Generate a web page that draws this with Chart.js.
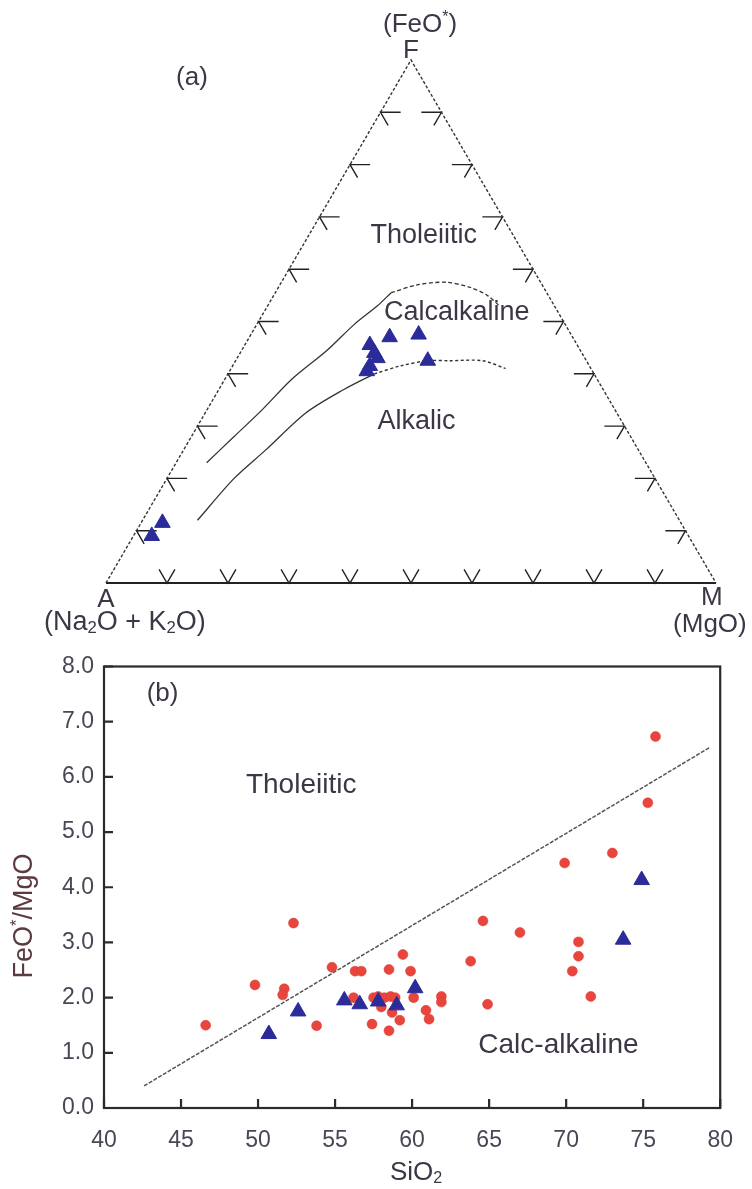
<!DOCTYPE html>
<html>
<head>
<meta charset="utf-8">
<script src="https://cdn.jsdelivr.net/npm/chart.js@4.4.0/dist/chart.umd.min.js"></script>
<style>
  body { margin: 0; background: #fff; }
  #wrap { position: relative; width: 752px; height: 1189px; }
  canvas { position: absolute; left: 0; }
  #afm { top: 0; }
  #ratio { top: 640px; }
</style>
</head>
<body>
<div id="wrap">
  <canvas id="afm" width="752" height="640"></canvas>
  <canvas id="ratio" width="752" height="549"></canvas>
</div>
<script>
// (a) AFM samples, in % (A = Na2O+K2O, F = FeO*, M = MgO)
var sampleA = [34, 34, 34, 36, 37, 30, 25, 26, 88, 85];
var sampleF = [45.5, 44, 43, 41.5, 40.5, 47, 47.5, 42.5, 9, 11.5];
var sampleM = [20.5, 22, 23, 22.5, 22.5, 23, 27.5, 31.5, 3, 3.5];

// tholeiitic / calcalkaline boundary
var upperA = [72, 65, 58, 50, 41.5, 34.5, 29, 25.5, 20.5, 15.5, 12, 10, 9];
var upperF = [23, 28, 33, 39, 44.5, 49.5, 53, 55.5, 57, 57.5, 56.5, 55, 53];
var upperM = [5, 7, 9, 11, 14, 16, 18, 19, 22.5, 27, 31.5, 35, 38];

// calcalkaline / alkalic boundary
var lowerA = [79, 69, 61, 51, 42.5, 36, 31, 26, 22.5, 17, 14];
var lowerF = [12, 20, 25.5, 32.5, 37, 40, 41.5, 42.5, 42.5, 42.5, 41];
var lowerM = [9, 11, 13.5, 16.5, 20.5, 24, 27.5, 31.5, 35, 40.5, 45];

var ternTicks = [10, 20, 30, 40, 50, 60, 70, 80, 90];

// (b) FeO*/MgO vs SiO2
var dotSiO2 = [46.6, 49.8, 51.7, 51.6, 52.3, 53.8, 54.8, 56.2, 56.3, 56.7, 58.5, 59.4, 59.9, 57.4, 58.5, 59.2,
  57.5, 57.8, 58.2, 58.6, 58.9, 58.0, 58.7, 60.1, 60.9, 61.1, 61.9, 61.9, 63.8, 64.6, 64.9, 67.0,
  70.4, 70.8, 70.8, 71.6, 69.9, 73.0, 75.3, 75.8];
var dotRatio = [1.50, 2.23, 2.16, 2.05, 3.35, 1.49, 2.55, 2.00, 2.48, 2.48, 2.51, 2.78, 2.48, 1.52, 1.40, 1.59,
  2.00, 2.02, 2.00, 2.02, 2.00, 1.83, 1.73, 2.00, 1.77, 1.61, 2.02, 1.92, 2.66, 3.39, 1.88, 3.18,
  2.48, 2.75, 3.01, 2.02, 4.44, 4.62, 5.53, 6.73];

var triSiO2 = [50.7, 52.6, 55.6, 56.6, 57.8, 59.0, 60.2, 73.7, 74.9];
var triRatio = [1.34, 1.75, 1.95, 1.88, 1.93, 1.86, 2.17, 3.05, 4.13];

var lineSiO2 = [42.6, 79.3];
var lineRatio = [0.40, 6.53];

var xTicks = [40, 45, 50, 55, 60, 65, 70, 75, 80];
var yTicks = [0, 1, 2, 3, 4, 5, 6, 7, 8];

var FONT = '"Liberation Sans", Arial, sans-serif';
var textColor = '#3d3646';
var blue = '#2b2b99';
var red = '#e8463c';

// ternary -> cartesian (x = M + F/2, y = F)
function tern(a, f, m) {
    var s = a + f + m;
    return { x: (m + f / 2) / s * 100, y: f / s * 100 };
}

function ternLine(A, F, M, from, to) {
    var out = [];
    for (var i = from; i <= to; i++) out.push(tern(A[i], F[i], M[i]));
    return out;
}

// tick marks on the three sides, arms parallel to the other two sides
function tickSegments() {
    var pts = [];
    ternTicks.forEach(function (t) {
        var l = tern(100 - t, t, 0);
        pts.push({ x: l.x + 3.3, y: l.y }, l, { x: l.x + 1.25, y: l.y - 2.5 }, { x: NaN, y: NaN });
        var r = tern(0, t, 100 - t);
        pts.push({ x: r.x - 3.3, y: r.y }, r, { x: r.x - 1.25, y: r.y - 2.5 }, { x: NaN, y: NaN });
        var b = tern(100 - t, 0, t);
        pts.push({ x: b.x - 1.3, y: 2.6 }, b, { x: b.x + 1.3, y: 2.6 }, { x: NaN, y: NaN });
    });
    return pts;
}

// text with sub/superscripts: parts = [[text, 'sub'|'sup'|undefined], ...]
function drawRich(ctx, parts, x, y, size, align) {
    var fontOf = function (p) { return (p[1] ? size * 0.62 : size) + 'px ' + FONT; };
    var widths = parts.map(function (p) {
        ctx.font = fontOf(p);
        return ctx.measureText(p[0]).width;
    });
    var total = widths.reduce(function (s, w) { return s + w; }, 0);
    var cx = align === 'left' ? x : (align === 'right' ? x - total : x - total / 2);
    ctx.textAlign = 'left';
    ctx.textBaseline = 'middle';
    parts.forEach(function (p, i) {
        ctx.font = fontOf(p);
        var dy = p[1] === 'sub' ? size * 0.22 : (p[1] === 'sup' ? -size * 0.3 : 0);
        ctx.fillText(p[0], cx, y + dy);
        cx += widths[i];
    });
}

function drawLabels(chart, labels) {
    var ctx = chart.ctx, xs = chart.scales.x, ys = chart.scales.y;
    ctx.save();
    ctx.fillStyle = textColor;
    labels.forEach(function (l) {
        drawRich(ctx, l.parts, xs.getPixelForValue(l.x), ys.getPixelForValue(l.y), l.size, 'center');
    });
    ctx.restore();
}

var afmText = [
    { parts: [['(FeO'], ['*', 'sup'], [')']], x: 51.5, y: 106.7, size: 26 },
    { parts: [['F']], x: 50, y: 101.8, size: 26 },
    { parts: [['(a)']], x: 14.1, y: 96.6, size: 26 },
    { parts: [['Tholeiitic']], x: 52.1, y: 66.5, size: 27 },
    { parts: [['Calcalkaline']], x: 57.5, y: 51.8, size: 27 },
    { parts: [['Alkalic']], x: 50.9, y: 30.8, size: 27 },
    { parts: [['A']], x: 0, y: -3.2, size: 26 },
    { parts: [['(Na'], ['2', 'sub'], ['O + K'], ['2', 'sub'], ['O)']], x: 3.1, y: -7.6, size: 27 },
    { parts: [['M']], x: 99.3, y: -2.9, size: 26 },
    { parts: [['(MgO)']], x: 99, y: -8, size: 26 }
];

var ratioText = [
    { parts: [['(b)']], x: 43.8, y: 7.5, size: 26 },
    { parts: [['Tholeiitic']], x: 52.8, y: 5.85, size: 28 },
    { parts: [['Calc-alkaline']], x: 69.5, y: 1.14, size: 28 }
];

var afmLabels = {
    id: 'afmLabels',
    afterDraw: function (chart) { drawLabels(chart, afmText); }
};

var ratioExtras = {
    id: 'ratioExtras',
    afterDraw: function (chart) {
        var ctx = chart.ctx, a = chart.chartArea, xs = chart.scales.x, ys = chart.scales.y;
        ctx.save();
        // frame
        ctx.strokeStyle = '#2a2a2a';
        ctx.lineWidth = 2.2;
        ctx.strokeRect(a.left, a.top, a.right - a.left, a.bottom - a.top);
        // inward ticks
        ctx.beginPath();
        xTicks.forEach(function (v) {
            var px = xs.getPixelForValue(v);
            ctx.moveTo(px, a.bottom); ctx.lineTo(px, a.bottom - 9);
        });
        yTicks.forEach(function (v) {
            var py = ys.getPixelForValue(v);
            ctx.moveTo(a.left, py); ctx.lineTo(a.left + 9, py);
        });
        ctx.stroke();
        // axis titles
        ctx.fillStyle = textColor;
        drawRich(ctx, [['SiO'], ['2', 'sub']], (a.left + a.right) / 2 + 4, 533, 26, 'center');
        ctx.save();
        ctx.translate(25, 276);
        ctx.rotate(-Math.PI / 2);
        ctx.fillStyle = '#5b3a40';
        drawRich(ctx, [['FeO'], ['*', 'sup'], ['/MgO']], 0, 0, 27, 'center');
        ctx.restore();
        ctx.restore();
        drawLabels(chart, ratioText);
    }
};

// ---- (a) ternary diagram ----
new Chart(document.getElementById('afm'), {
    type: 'scatter',
    data: {
        datasets: [
            {
                data: sampleA.map(function (a, i) { return tern(a, sampleF[i], sampleM[i]); }),
                pointStyle: 'triangle', pointRadius: 9,
                backgroundColor: blue, borderColor: blue, borderWidth: 1,
                clip: false, order: 0
            },
            {   // sides A-F and F-M
                data: [tern(100, 0, 0), tern(0, 100, 0), tern(0, 0, 100)],
                showLine: true, pointRadius: 0, borderColor: '#333', borderWidth: 1.4,
                borderDash: [3, 2], clip: false, order: 3
            },
            {   // base A-M
                data: [tern(100, 0, 0), tern(0, 0, 100)],
                showLine: true, pointRadius: 0, borderColor: '#222', borderWidth: 2.2,
                clip: false, order: 3
            },
            {
                data: tickSegments(),
                showLine: true, pointRadius: 0, borderColor: '#222', borderWidth: 1.4,
                spanGaps: false, clip: false, order: 3
            },
            {
                data: ternLine(upperA, upperF, upperM, 0, 7),
                showLine: true, pointRadius: 0, borderColor: '#333', borderWidth: 1.3,
                tension: 0.3, clip: false, order: 2
            },
            {
                data: ternLine(upperA, upperF, upperM, 7, upperA.length - 1),
                showLine: true, pointRadius: 0, borderColor: '#333', borderWidth: 1.3,
                borderDash: [4, 2.5], tension: 0.3, clip: false, order: 2
            },
            {
                data: ternLine(lowerA, lowerF, lowerM, 0, 5),
                showLine: true, pointRadius: 0, borderColor: '#333', borderWidth: 1.3,
                tension: 0.3, clip: false, order: 2
            },
            {
                data: ternLine(lowerA, lowerF, lowerM, 5, lowerA.length - 1),
                showLine: true, pointRadius: 0, borderColor: '#333', borderWidth: 1.4,
                borderDash: [3, 2.5], tension: 0.3, clip: false, order: 2
            }
        ]
    },
    options: {
        responsive: false,
        animation: false,
        events: [],
        layout: { padding: { left: 106, right: 36, top: 60, bottom: 57 } },
        scales: {
            x: { type: 'linear', display: false, min: 0, max: 100 },
            y: { type: 'linear', display: false, min: 0, max: 100 }
        },
        plugins: { legend: { display: false }, tooltip: { enabled: false } }
    },
    plugins: [afmLabels]
});

// ---- (b) FeO*/MgO vs SiO2 ----
new Chart(document.getElementById('ratio'), {
    type: 'scatter',
    data: {
        datasets: [
            {
                data: triSiO2.map(function (x, i) { return { x: x, y: triRatio[i] }; }),
                pointStyle: 'triangle', pointRadius: 9,
                backgroundColor: blue, borderColor: blue, borderWidth: 1, order: 0
            },
            {
                data: dotSiO2.map(function (x, i) { return { x: x, y: dotRatio[i] }; }),
                pointStyle: 'circle', pointRadius: 5,
                backgroundColor: red, borderColor: '#d83a32', borderWidth: 0.5, order: 1
            },
            {
                data: lineSiO2.map(function (x, i) { return { x: x, y: lineRatio[i] }; }),
                showLine: true, pointRadius: 0, borderColor: '#555', borderWidth: 1.5,
                borderDash: [4, 1.5], order: 2
            }
        ]
    },
    options: {
        responsive: false,
        animation: false,
        events: [],
        layout: { padding: { top: 26.5, right: 31, left: 0, bottom: 0 } },
        scales: {
            x: {
                type: 'linear', min: 40, max: 80,
                afterBuildTicks: function (s) { s.ticks = xTicks.map(function (v) { return { value: v }; }); },
                afterFit: function (s) { s.height = 81; },
                grid: { display: false, drawTicks: false },
                border: { display: false },
                ticks: { color: '#4b4656', font: { family: FONT, size: 23 }, padding: 19, autoSkip: false, maxRotation: 0 }
            },
            y: {
                type: 'linear', min: 0, max: 8,
                afterBuildTicks: function (s) { s.ticks = yTicks.map(function (v) { return { value: v }; }); },
                afterFit: function (s) { s.width = 104; },
                grid: { display: false, drawTicks: false },
                border: { display: false },
                ticks: {
                    color: '#4b4656', font: { family: FONT, size: 23 }, padding: 10, autoSkip: false,
                    callback: function (v) { return Number(v).toFixed(1); }
                }
            }
        },
        plugins: { legend: { display: false }, tooltip: { enabled: false } }
    },
    plugins: [ratioExtras]
});
</script>
</body>
</html>
